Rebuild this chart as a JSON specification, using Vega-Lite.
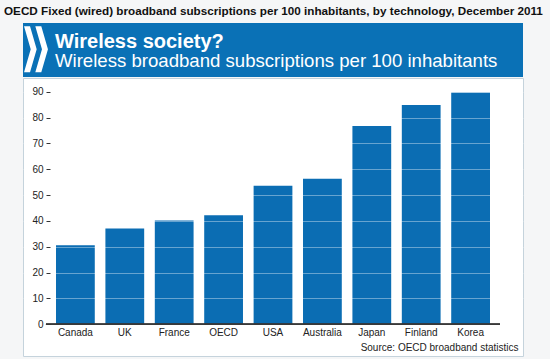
{
  "$schema": "https://vega.github.io/schema/vega-lite/v6.json",
  "background": "#f5f6f7",
  "padding": {"left": 4, "right": 27, "top": 6, "bottom": 4},
  "title": {
    "text": "OECD Fixed (wired) broadband subscriptions per 100 inhabitants, by technology, December 2011",
    "font": "Liberation Sans",
    "fontSize": 11.7,
    "fontWeight": "bold",
    "color": "#111111",
    "anchor": "start",
    "frame": "group",
    "dx": -19,
    "offset": 5
  },
  "config": {
    "concat": {"spacing": 0},
    "font": "Liberation Sans"
  },
  "vconcat": [
    {
      "width": 500,
      "height": 54,
      "view": {"fill": "#0a71b6", "stroke": null},
      "title": {
        "text": "Wireless society?",
        "subtitle": "Wireless broadband subscriptions per 100 inhabitants",
        "orient": "bottom",
        "anchor": "start",
        "frame": "group",
        "offset": -45.2,
        "dx": 32,
        "color": "white",
        "subtitleColor": "white",
        "font": "Liberation Sans",
        "subtitleFont": "Liberation Sans",
        "fontSize": 20,
        "subtitleFontSize": 18.6,
        "fontWeight": "bold",
        "subtitleFontWeight": "normal",
        "subtitlePadding": 0
      },
      "data": {"values": [{"logo": "OECD"}]},
      "mark": {
        "type": "point",
        "shape": "M-0.52,-1 L-0.26,-1 L0.03,0 L-0.26,1 L-0.52,1 L-0.23,0 Z M-0.03,-1 L0.23,-1 L0.52,0 L0.23,1 L-0.03,1 L0.26,0 Z",
        "filled": true,
        "fill": "white",
        "opacity": 1,
        "strokeWidth": 0,
        "size": 2116
      },
      "encoding": {
        "x": {"datum": 0.026, "type": "quantitative", "scale": {"domain": [0, 1]}, "axis": null},
        "y": {"datum": 0.513, "type": "quantitative", "scale": {"domain": [0, 1]}, "axis": null}
      }
    },
    {
      "width": 500,
      "height": 278,
      "view": {"fill": "white", "stroke": "#c5d3dc", "strokeWidth": 1},
      "data": {
        "values": [
          {"country": "Canada", "value": 30.6},
          {"country": "UK", "value": 37.1},
          {"country": "France", "value": 40.2},
          {"country": "OECD", "value": 42.2},
          {"country": "USA", "value": 53.6},
          {"country": "Australia", "value": 56.3},
          {"country": "Japan", "value": 76.7},
          {"country": "Finland", "value": 84.9},
          {"country": "Korea", "value": 89.7}
        ]
      },
      "encoding": {
        "x": {
          "field": "country",
          "type": "nominal",
          "sort": null,
          "scale": {"paddingInner": 0.215, "paddingOuter": 0.668},
          "axis": {
            "orient": "bottom",
            "offset": -31.7,
            "domain": false,
            "ticks": false,
            "labelAngle": 0,
            "labelFontSize": 10,
            "labelColor": "#222222",
            "labelPadding": 3,
            "title": "Source: OECD broadband statistics",
            "titleFontSize": 10,
            "titleFontWeight": "normal",
            "titleColor": "#222222",
            "titleAlign": "right",
            "titleAnchor": "end",
            "titleBaseline": "alphabetic",
            "titleX": 495,
            "titleY": 26.5,
            "zindex": 2
          }
        }
      },
      "layer": [
        {
          "mark": {"type": "bar", "color": "#0b6db3"},
          "encoding": {
            "y": {
              "field": "value",
              "type": "quantitative",
              "scale": {"domain": [-12.27, 95.3], "nice": false, "zero": false},
              "axis": {
                "values": [0, 10, 20, 30, 40, 50, 60, 70, 80, 90],
                "offset": -27,
                "domain": false,
                "tickSize": 4,
                "tickColor": "#333333",
                "labelFontSize": 10,
                "labelColor": "#222222",
                "labelPadding": 3,
                "labelOverlap": false,
                "title": null,
                "grid": true,
                "gridColor": "white",
                "gridOpacity": {"condition": {"test": "datum.value === 0", "value": 0}, "value": 0.38},
                "zindex": 1
              }
            },
            "y2": {"datum": 0}
          }
        },
        {
          "mark": {"type": "rule", "color": "#3a3a3a", "strokeWidth": 1},
          "encoding": {
            "x": {"datum": "Canada", "bandPosition": -0.258},
            "x2": {"datum": "Korea", "bandPosition": 1.258},
            "y": {
              "datum": 0,
              "type": "quantitative",
              "axis": {
                "values": [0, 10, 20, 30, 40, 50, 60, 70, 80, 90],
                "offset": -27,
                "domain": false,
                "tickSize": 4,
                "tickColor": "#333333",
                "labelFontSize": 10,
                "labelColor": "#222222",
                "labelPadding": 3,
                "labelOverlap": false,
                "title": null,
                "grid": true,
                "gridColor": "white",
                "gridOpacity": {"condition": {"test": "datum.value === 0", "value": 0}, "value": 0.38},
                "zindex": 1
              }
            }
          }
        }
      ]
    }
  ]
}
